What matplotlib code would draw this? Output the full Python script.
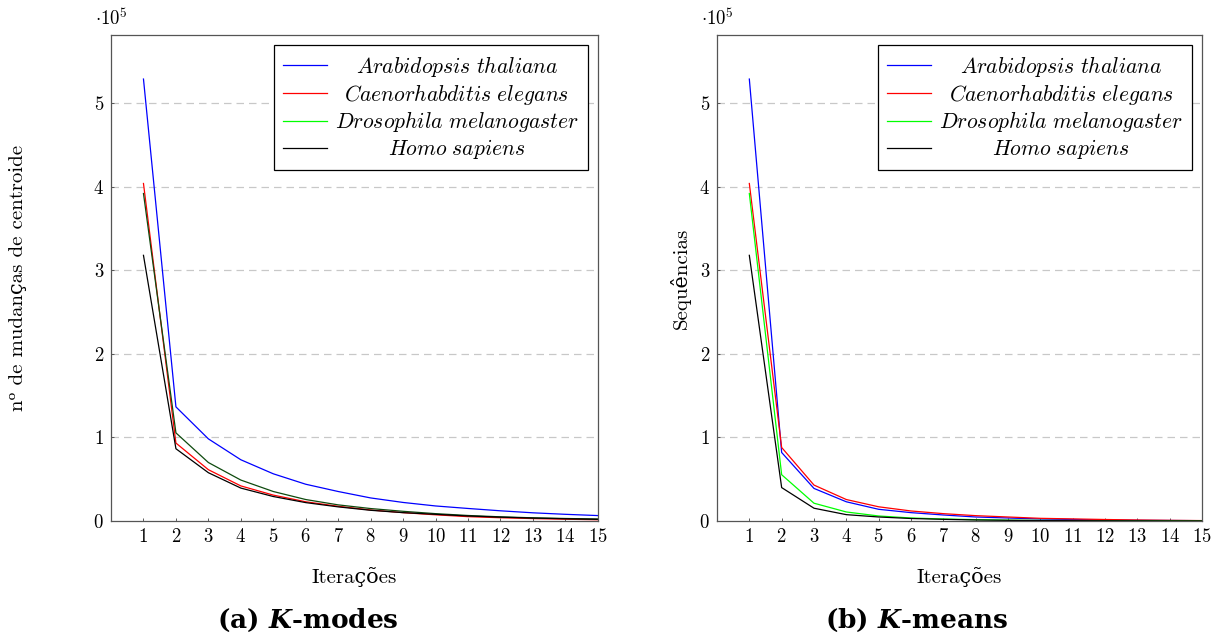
import matplotlib
matplotlib.use("Agg")
import matplotlib.pyplot as plt
import numpy as np

plt.rcParams['mathtext.fontset'] = 'cm'
plt.rcParams['font.family'] = ['cmr10', 'DejaVu Serif', 'DejaVu Sans']
plt.rcParams['axes.formatter.use_mathtext'] = True

iteracoes = list(range(1, 16))
especies = ['Arabidopsis thaliana', 'Caenorhabditis elegans',
            'Drosophila melanogaster', 'Homo sapiens']
cores = ['#0000ff', '#ff0000', '#00ff00', '#000000']

# K-modes: numero de mudancas de centroide por iteracao
kmodes_arabidopsis = [529000, 136600, 98300, 73300, 56500, 44000, 35300, 27600, 22200, 18000,
                      15000, 12200, 9800, 8000, 6500]
kmodes_caenorhabditis = [404000, 93300, 61400, 42000, 31000, 23000, 17600, 13200, 10000, 7400,
                         5200, 3900, 2900, 2100, 1500]
kmodes_drosophila = [392000, 105500, 70000, 49000, 35300, 25700, 19300, 14900, 11600, 8800,
                     6600, 5000, 3800, 3000, 2400]
kmodes_homo = [318000, 86500, 57800, 39400, 29300, 22000, 16900, 12800, 10000, 8000,
               6000, 4600, 3500, 2700, 2000]

# K-means
kmeans_arabidopsis = [529000, 82000, 39000, 23000, 14000, 10000, 7200, 4800, 3600, 2400,
                      1800, 1200, 800, 600, 400]
kmeans_caenorhabditis = [404000, 88000, 43000, 25700, 17000, 12000, 8800, 6400, 4800, 3200,
                         2500, 1800, 1200, 800, 500]
kmeans_drosophila = [392000, 55400, 21300, 10800, 6000, 3600, 2400, 1600, 1000, 700,
                     500, 400, 300, 200, 100]
kmeans_homo = [318000, 40000, 15300, 7600, 4800, 3000, 2000, 1200, 800, 500,
               400, 300, 200, 100, 100]

kmodes = [kmodes_arabidopsis, kmodes_caenorhabditis, kmodes_drosophila, kmodes_homo]
kmeans = [kmeans_arabidopsis, kmeans_caenorhabditis, kmeans_drosophila, kmeans_homo]

fig = plt.figure(figsize=(12.2, 6.44), dpi=100)
ax1 = fig.add_axes([0.091, 0.191, 0.399, 0.755])
ax2 = fig.add_axes([0.5877, 0.191, 0.3975, 0.755])


def desenha(ax, series, ylabel, ylabel_x, escurecer_verde=False):
    linhas = []
    for serie, cor in zip(series, cores):
        l, = ax.plot(iteracoes, np.array(serie) / 1e5, color=cor, lw=0.9)
        linhas.append(l)
    ax.set_xlim(0, 15)
    ax.set_ylim(0, 5.82)
    ax.set_xticks(iteracoes)
    ax.set_yticks([0, 1, 2, 3, 4, 5])
    ax.tick_params(direction='in', length=2.5, width=0.6, labelsize=13.5, pad=5, colors='#444444',
                   labelcolor='black')
    for y in [1, 2, 3, 4, 5]:
        ax.axhline(y, color='#c8c8c8', lw=0.9, ls=(0, (6, 4)), zorder=0)
    for s in ax.spines.values():
        s.set_color('#555555')
        s.set_linewidth(0.9)
    ax.text(-0.033, 1.012, r'$\cdot 10^{5}$', transform=ax.transAxes, fontsize=13.5,
            ha='left', va='bottom')
    ax.set_xlabel('Iterações', fontsize=15)
    ax.xaxis.set_label_coords(0.5, -0.1276)
    ax.xaxis.label.set_va('baseline')
    ax.set_ylabel(ylabel, fontsize=15)
    ax.yaxis.set_label_coords(ylabel_x, 0.5)
    ax.yaxis.label.set_va('center')
    rotulos = [r'$\mathit{' + e.replace(' ', r'\ ') + '}$' for e in especies]
    leg = ax.legend(linhas, rotulos, loc='upper right', fontsize=15.5, frameon=True,
                    fancybox=False, edgecolor='black', framealpha=1, borderaxespad=0.46,
                    handlelength=2.05, handletextpad=0.37, labelspacing=0.13,
                    borderpad=0.42)
    leg.get_frame().set_linewidth(0.9)
    if escurecer_verde:
        linhas[2].set_color('#0e4a0e')
    return leg


leg1 = desenha(ax1, kmodes, 'n\u1d52 de mudanças de centroide', -0.191,
               escurecer_verde=True)
leg2 = desenha(ax2, kmeans, 'Sequências', -0.076)

# centraliza os textos da legenda
fig.canvas.draw()
r = fig.canvas.get_renderer()
for leg in (leg1, leg2):
    textos = leg.get_texts()
    larguras = [t.get_window_extent(r).width for t in textos]
    wmax = max(larguras)
    for t, w in zip(textos, larguras):
        t.set_position(((wmax - w) / 2, 0))

fig.text(0.2525, 0.0248, r'(a) $\boldsymbol{K}$-modes', ha='center', va='baseline',
         fontsize=19, fontweight='bold', family='DejaVu Serif', math_fontfamily='dejavuserif')
fig.text(0.751, 0.0248, r'(b) $\boldsymbol{K}$-means', ha='center', va='baseline',
         fontsize=19, fontweight='bold', family='DejaVu Serif', math_fontfamily='dejavuserif')

fig.savefig('out.png', dpi=100)
